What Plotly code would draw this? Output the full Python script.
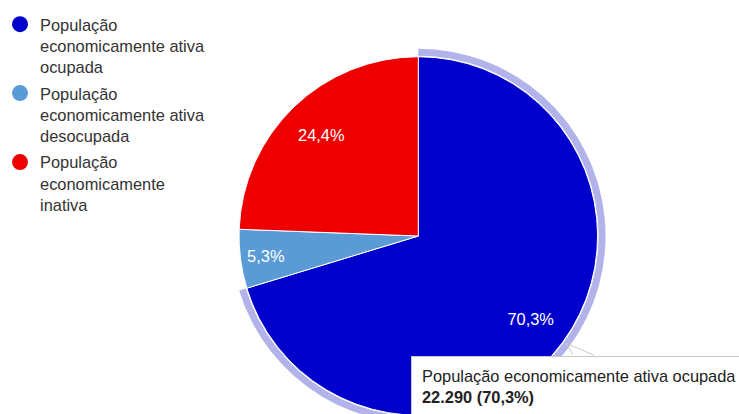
import textwrap
import plotly.graph_objects as go

# ---- data ----
categories = [
    "População economicamente ativa ocupada",
    "População economicamente ativa desocupada",
    "População economicamente inativa",
]
values = [22290, 1680, 7737]
colors = ["#0000cc", "#5a9bd5", "#ee0000"]
highlight_color = "#b3b3eb"
selected = 0  # highlighted slice (tooltip)

W, H = 739, 430
FONT = "Arial, Liberation Sans, sans-serif"
FS = 16.4

def px_x(x):
    return x / W

def px_y(y):
    return (H - y) / H

cx, cy, R, Rring = 417, 236, 180, 188
pie_domain = dict(x=[px_x(cx - R), px_x(cx + R)], y=[px_y(cy + R), px_y(cy - R)])

fig = go.Figure()

# highlight ring around the selected slice
fig.add_trace(go.Pie(
    values=values,
    labels=categories,
    sort=False,
    direction="clockwise",
    hole=(R + 1) / Rring,
    marker=dict(colors=[highlight_color if i == selected else "rgba(0,0,0,0)"
                        for i in range(len(values))],
                line=dict(width=0)),
    textinfo="none",
    hoverinfo="skip",
    showlegend=False,
    domain=dict(x=[px_x(cx - Rring), px_x(cx + Rring)],
                y=[px_y(cy + Rring), px_y(cy - Rring)]),
))

# main pie (slices)
fig.add_trace(go.Pie(
    values=values,
    labels=categories,
    sort=False,
    direction="clockwise",
    marker=dict(colors=colors, line=dict(color="white", width=1)),
    textinfo="none",
    hoverinfo="skip",
    showlegend=False,
    domain=pie_domain,
))

# transparent donut carrying the percentage labels further out
fig.add_trace(go.Pie(
    values=values,
    labels=categories,
    sort=False,
    direction="clockwise",
    hole=0.56,
    marker=dict(colors=["rgba(0,0,0,0)"] * len(values), line=dict(width=0)),
    textinfo="percent",
    texttemplate="%{percent:.1%}",
    textposition="inside",
    insidetextorientation="horizontal",
    insidetextfont=dict(color="white", size=FS, family=FONT),
    hoverinfo="skip",
    showlegend=False,
    domain=pie_domain,
))

# legend entries with circle markers
for i, (name, col) in enumerate(zip(categories, colors)):
    fig.add_trace(go.Scatter(
        x=[None], y=[None], mode="markers",
        marker=dict(symbol="circle", size=16, color=col),
        name="<br>".join(textwrap.wrap(name, 20)),
        legendgroup=f"g{i}",
        showlegend=True, hoverinfo="skip",
    ))

# tooltip
total = sum(values)
val_txt = f"{values[selected]:,}".replace(",", ".")
pct_txt = f"{values[selected] / total * 100:.1f}".replace(".", ",")
fig.add_annotation(
    xref="paper", yref="paper",
    x=px_x(410), y=px_y(356), xanchor="left", yanchor="top",
    text=f"{categories[selected]}<br><b>{val_txt} ({pct_txt}%)</b>",
    showarrow=False, align="left",
    font=dict(family=FONT, size=FS, color="#222"),
    bgcolor="white", bordercolor="#c8c8c8", borderwidth=1, borderpad=10,
)
for tx in (573, 595):
    fig.add_annotation(
        xref="paper", yref="paper", x=px_x(565), y=px_y(343),
        ax=tx - 565, ay=356 - 343, text="", showarrow=True,
        arrowhead=0, arrowwidth=1, arrowcolor="#c8c8c8",
    )

fig.update_layout(
    width=W, height=H,
    margin=dict(l=0, r=0, t=0, b=0),
    separators=",.",
    paper_bgcolor="white", plot_bgcolor="white",
    xaxis=dict(visible=False), yaxis=dict(visible=False),
    font=dict(family=FONT, size=FS, color="#333"),
    legend=dict(x=px_x(-3), y=px_y(7), xanchor="left", yanchor="top", valign="top",
                font=dict(family=FONT, size=FS, color="#333"),
                tracegroupgap=2,
                bgcolor="rgba(0,0,0,0)"),
    hovermode=False,
)

fig.write_html(
    "out.html",
    post_script="document.documentElement.style.overflow='hidden';document.body.style.overflow='hidden';",
)
